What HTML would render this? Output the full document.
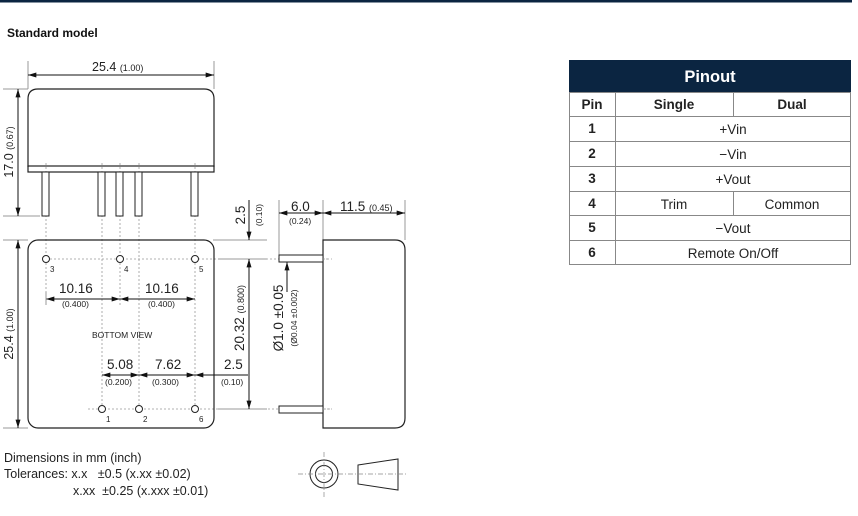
<!DOCTYPE html>
<html><head><style>
html,body{margin:0;padding:0;background:#fff;}
svg{display:block;font-family:"Liberation Sans",Arial,sans-serif;}
</style></head><body>
<svg width="858" height="516" viewBox="0 0 858 516" xmlns="http://www.w3.org/2000/svg">
<defs>
<marker id="a" viewBox="0 0 10 6" refX="10" refY="3" markerWidth="9" markerHeight="5" orient="auto-start-reverse" markerUnits="userSpaceOnUse"><path d="M0,0L10,3L0,6z" fill="#111"/></marker>
</defs>
<rect x="0" y="0" width="852" height="2.5" fill="#0b2541"/>
<text x="7" y="37" font-size="12" font-weight="bold" fill="#111">Standard model</text>

<g stroke="#999" stroke-width="1" fill="none">
<line x1="28" y1="61" x2="28" y2="89"/><line x1="214" y1="61" x2="214" y2="89"/>
<line x1="3" y1="89" x2="28" y2="89"/><line x1="3" y1="216" x2="40" y2="216"/>
<line x1="3" y1="240" x2="28" y2="240"/><line x1="3" y1="428" x2="28" y2="428"/>
<line x1="213" y1="240" x2="267" y2="240"/>
<line x1="218" y1="259" x2="267" y2="259"/><line x1="218" y1="409" x2="267" y2="409"/>
<line x1="279" y1="200" x2="279" y2="255"/><line x1="323" y1="200" x2="323" y2="240"/><line x1="405" y1="200" x2="405" y2="240"/>
</g>
<g stroke="#999" stroke-width="0.8" stroke-dasharray="2,2" fill="none">
<line x1="46" y1="163" x2="46" y2="305"/><line x1="102" y1="163" x2="102" y2="409"/><line x1="120" y1="163" x2="120" y2="305"/>
<line x1="139" y1="163" x2="139" y2="409"/><line x1="195" y1="163" x2="195" y2="409"/>
<line x1="46" y1="259" x2="330" y2="259"/><line x1="88" y1="409" x2="330" y2="409"/>
</g>

<path d="M28,167 L28,99 Q28,89 38,89 L204,89 Q214,89 214,99 L214,167" fill="none" stroke="#222" stroke-width="1.2"/>
<rect x="28" y="166" width="186" height="6" fill="none" stroke="#222" stroke-width="1.2"/>
<g fill="#fff" stroke="#222" stroke-width="1">
<rect x="42" y="172" width="7" height="44"/><rect x="98" y="172" width="7" height="44"/><rect x="116" y="172" width="7" height="44"/><rect x="135" y="172" width="7" height="44"/><rect x="191" y="172" width="7" height="44"/>
</g>
<g stroke="#111" stroke-width="1" fill="none">
<line x1="28" y1="75" x2="214" y2="75" marker-start="url(#a)" marker-end="url(#a)"/>
<line x1="18" y1="89" x2="18" y2="216" marker-start="url(#a)" marker-end="url(#a)"/>
<line x1="18" y1="240" x2="18" y2="428" marker-start="url(#a)" marker-end="url(#a)"/>
</g>
<text x="92" y="71" font-size="12.5" fill="#222">25.4 <tspan font-size="9">(1.00)</tspan></text>
<text transform="translate(13,152) rotate(-90)" text-anchor="middle" font-size="12.5" fill="#222">17.0 <tspan font-size="9">(0.67)</tspan></text>
<text transform="translate(13,334) rotate(-90)" text-anchor="middle" font-size="12.5" fill="#222">25.4 <tspan font-size="9">(1.00)</tspan></text>

<rect x="28" y="240" width="186" height="188" rx="10" fill="none" stroke="#222" stroke-width="1.2"/>
<g fill="#fff" stroke="#222" stroke-width="1">
<circle cx="46" cy="259" r="3.5"/><circle cx="120" cy="259" r="3.5"/><circle cx="195" cy="259" r="3.5"/>
<circle cx="102" cy="409" r="3.5"/><circle cx="139" cy="409" r="3.5"/><circle cx="195" cy="409" r="3.5"/>
</g>
<g font-size="8" fill="#222">
<text x="50" y="272">3</text><text x="124" y="272">4</text><text x="199" y="272">5</text>
<text x="106" y="422">1</text><text x="143" y="422">2</text><text x="199" y="422">6</text>
</g>
<g stroke="#111" stroke-width="1" fill="none">
<line x1="46" y1="299" x2="120" y2="299" marker-start="url(#a)" marker-end="url(#a)"/>
<line x1="120" y1="299" x2="195" y2="299" marker-start="url(#a)" marker-end="url(#a)"/>
<line x1="46" y1="292" x2="46" y2="305" stroke="#999"/>
<line x1="102" y1="375" x2="139" y2="375" marker-start="url(#a)" marker-end="url(#a)"/>
<line x1="139" y1="375" x2="195" y2="375" marker-start="url(#a)" marker-end="url(#a)"/>
<line x1="248" y1="375" x2="195" y2="375" marker-end="url(#a)"/>
<line x1="249" y1="200" x2="249" y2="240" marker-end="url(#a)"/>
<line x1="249" y1="259" x2="249" y2="409" marker-start="url(#a)" marker-end="url(#a)"/>
<line x1="279" y1="213" x2="323" y2="213" marker-start="url(#a)" marker-end="url(#a)"/>
<line x1="323" y1="213" x2="405" y2="213" marker-start="url(#a)" marker-end="url(#a)"/>
<line x1="287" y1="292" x2="287" y2="262" marker-end="url(#a)"/>
</g>
<g fill="#222">
<text x="59" y="293" font-size="13.5">10.16</text><text x="62" y="307" font-size="8.5">(0.400)</text>
<text x="145" y="293" font-size="13.5">10.16</text><text x="148" y="307" font-size="8.5">(0.400)</text>
<text x="92" y="338" font-size="8.5">BOTTOM VIEW</text>
<text x="107" y="369" font-size="13.5">5.08</text><text x="105" y="385" font-size="8.5">(0.200)</text>
<text x="155" y="369" font-size="13.5">7.62</text><text x="152" y="385" font-size="8.5">(0.300)</text>
<text x="224" y="369" font-size="13.5">2.5</text><text x="221" y="385" font-size="8.5">(0.10)</text>
<text x="291" y="211" font-size="13.5">6.0</text><text x="289" y="224" font-size="8.5">(0.24)</text>
<text x="340" y="211" font-size="13.5">11.5 <tspan font-size="9">(0.45)</tspan></text>
<text transform="translate(245,215) rotate(-90)" text-anchor="middle" font-size="13.5">2.5</text>
<text transform="translate(262,215) rotate(-90)" text-anchor="middle" font-size="8.5">(0.10)</text>
<text transform="translate(244,318) rotate(-90)" text-anchor="middle" font-size="13.5">20.32 <tspan font-size="9">(0.800)</tspan></text>
<text transform="translate(283,318) rotate(-90)" text-anchor="middle" font-size="13.5">Ø1.0 ±0.05</text>
<text transform="translate(297,318) rotate(-90)" text-anchor="middle" font-size="8.5">(Ø0.04 ±0.002)</text>
</g>

<path d="M323,240 L395,240 Q405,240 405,250 L405,418 Q405,428 395,428 L323,428 Z" fill="none" stroke="#222" stroke-width="1.2"/>
<g fill="#fff" stroke="#222" stroke-width="1">
<rect x="279" y="255" width="44" height="7"/><rect x="279" y="406" width="44" height="7"/>
</g>
<g stroke="#999" stroke-width="0.8" stroke-dasharray="2,2"><line x1="323" y1="259" x2="332" y2="259"/><line x1="323" y1="409" x2="332" y2="409"/></g>

<g fill="#222" font-size="12.5">
<text x="4" y="462">Dimensions in mm (inch)</text>
<text x="4" y="478">Tolerances: x.x &#160;&#160;±0.5 (x.xx ±0.02)</text>
<text x="73" y="495">x.xx &#160;±0.25 (x.xxx ±0.01)</text>
</g>
<g fill="none" stroke="#222" stroke-width="1">
<circle cx="324" cy="474" r="14"/><circle cx="324" cy="474" r="8.5"/>
<path d="M358,465 L398,459 L398,490 L358,484 Z"/>
</g>
<g stroke="#888" stroke-width="0.7" stroke-dasharray="5,2,1,2" fill="none">
<line x1="298" y1="474" x2="406" y2="474"/><line x1="324" y1="452" x2="324" y2="497"/>
</g>

<rect x="569" y="60" width="282" height="32" fill="#0b2541"/>
<text x="710" y="82" text-anchor="middle" font-size="16.5" font-weight="bold" fill="#fff">Pinout</text>
<g stroke="#888" stroke-width="1" fill="none">
<rect x="569.5" y="92.5" width="281" height="172"/>
<line x1="615.5" y1="92" x2="615.5" y2="265"/>
<line x1="733.5" y1="92" x2="733.5" y2="116"/><line x1="733.5" y1="191" x2="733.5" y2="215"/>
<line x1="569" y1="116.5" x2="851" y2="116.5"/><line x1="569" y1="141.5" x2="851" y2="141.5"/>
<line x1="569" y1="166.5" x2="851" y2="166.5"/><line x1="569" y1="191.5" x2="851" y2="191.5"/>
<line x1="569" y1="215.5" x2="851" y2="215.5"/><line x1="569" y1="240.5" x2="851" y2="240.5"/>
</g>
<g font-size="13.5" fill="#222" text-anchor="middle">
<text x="592" y="109" font-weight="bold">Pin</text><text x="674" y="109" font-weight="bold">Single</text><text x="792" y="109" font-weight="bold">Dual</text>
<text x="592" y="133" font-weight="bold">1</text><text x="733" y="134">+Vin</text>
<text x="592" y="158" font-weight="bold">2</text><text x="733" y="159">−Vin</text>
<text x="592" y="183" font-weight="bold">3</text><text x="733" y="184">+Vout</text>
<text x="592" y="208" font-weight="bold">4</text><text x="674" y="209">Trim</text><text x="792" y="209">Common</text>
<text x="592" y="232" font-weight="bold">5</text><text x="733" y="233">−Vout</text>
<text x="592" y="257" font-weight="bold">6</text><text x="733" y="258">Remote On/Off</text>
</g>
</svg>
</body></html>
